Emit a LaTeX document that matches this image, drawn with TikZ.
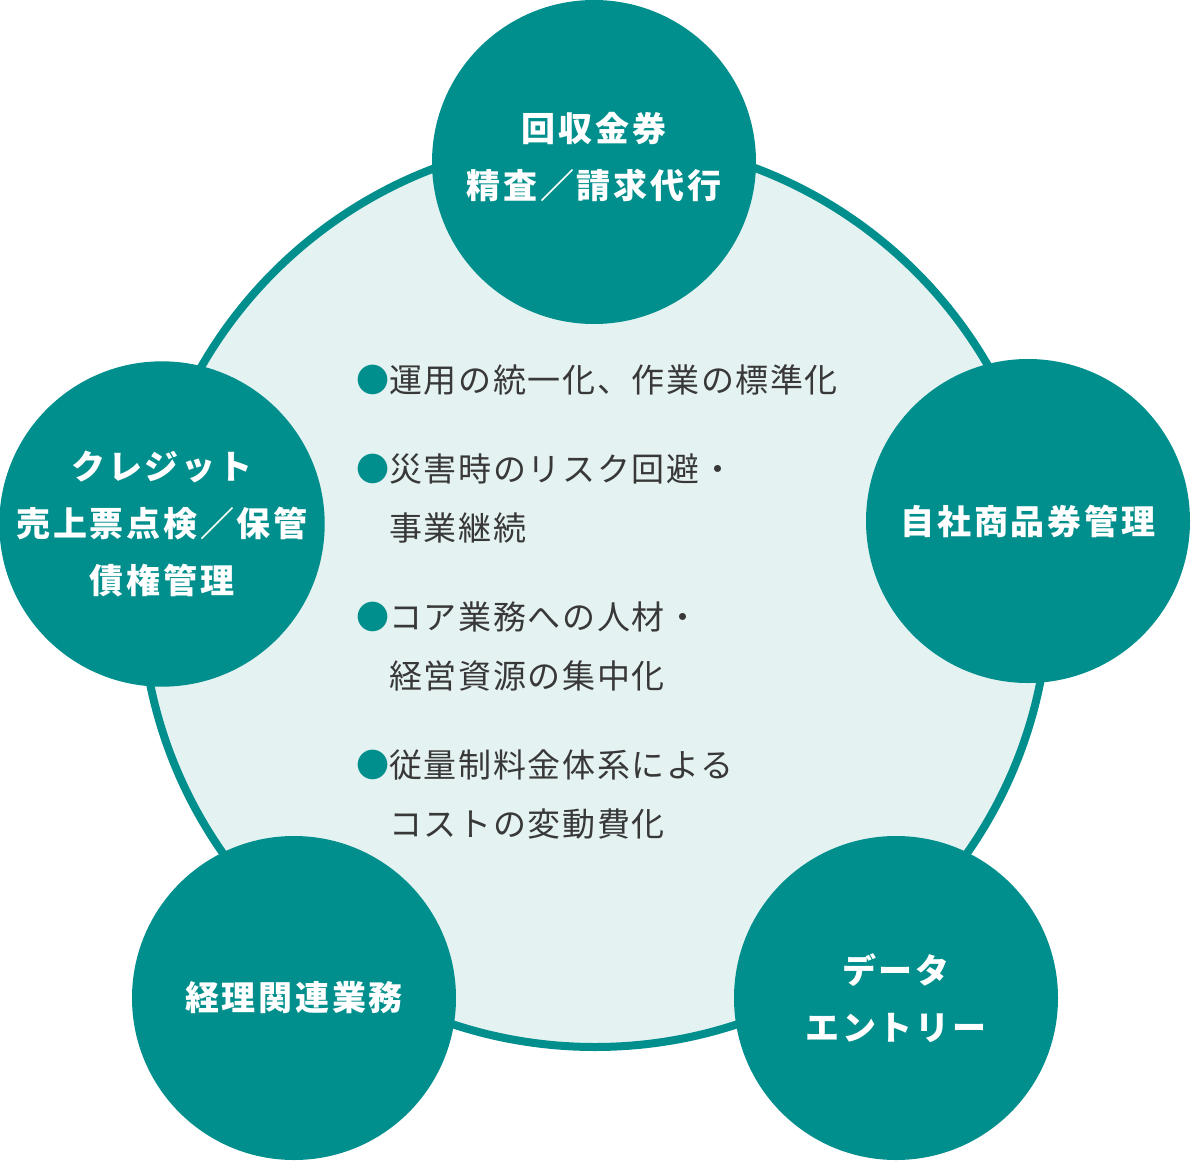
\documentclass[tikz,border=0pt]{standalone}
\usepackage{fontspec}
\usepackage{xcolor}
\setmainfont{Noto Sans CJK JP}
\newfontfamily\jptext[LetterSpace=8]{Noto Sans CJK JP}
\newfontfamily\jpbody[LetterSpace=5]{Noto Sans CJK JP}
\definecolor{maincol}{HTML}{008F8C}
\definecolor{paleteal}{HTML}{E4F2F1}
\definecolor{textgray}{HTML}{383838}
\newcommand\pbul{\textcolor{maincol}{●}}
\newcommand\pind{\phantom{●}}

\begin{document}
\begin{tikzpicture}
  [x=1pt,y=-1pt,
   bubble/.style={circle,fill=maincol,minimum size=324pt,inner sep=0pt,
     text=white,align=center,font=\jptext\bfseries\fontsize{34}{57}\selectfont},
   point/.style={anchor=base west,inner sep=0pt,align=left,text=textgray,
     font=\jpbody\fontsize{33}{59}\selectfont}]
  \useasboundingbox (0,0) rectangle (1192,1162);

  \node[circle,draw=maincol,line width=8pt,fill=paleteal,minimum size=908pt,
    inner sep=0pt] (hub) at (595,593) {};

  \node[bubble,text depth=14pt] (kaishu) at (594,162) {回収金券\\精査／請求代行};
  \node[bubble] (jisha) at (1028,521) {自社商品券管理};
  \node[bubble] (data) at (896,998) {データ\\エントリー};
  \node[bubble] (keiri) at (294,998) {経理関連業務};
  \node[bubble] (credit) at (162,524) {クレジット\\売上票点検／保管\\債権管理};

  % base = baseline of the last line
  \node[point] (p1) at (356,392) {\pbul 運用の統一化、作業の標準化};
  \node[point] (p2) at (356,540) {\pbul 災害時のリスク回避・\\\pind 事業継続};
  \node[point] (p3) at (356,688) {\pbul コア業務への人材・\\\pind 経営資源の集中化};
  \node[point] (p4) at (356,836) {\pbul 従量制料金体系による\\\pind コストの変動費化};

\end{tikzpicture}
\end{document}
